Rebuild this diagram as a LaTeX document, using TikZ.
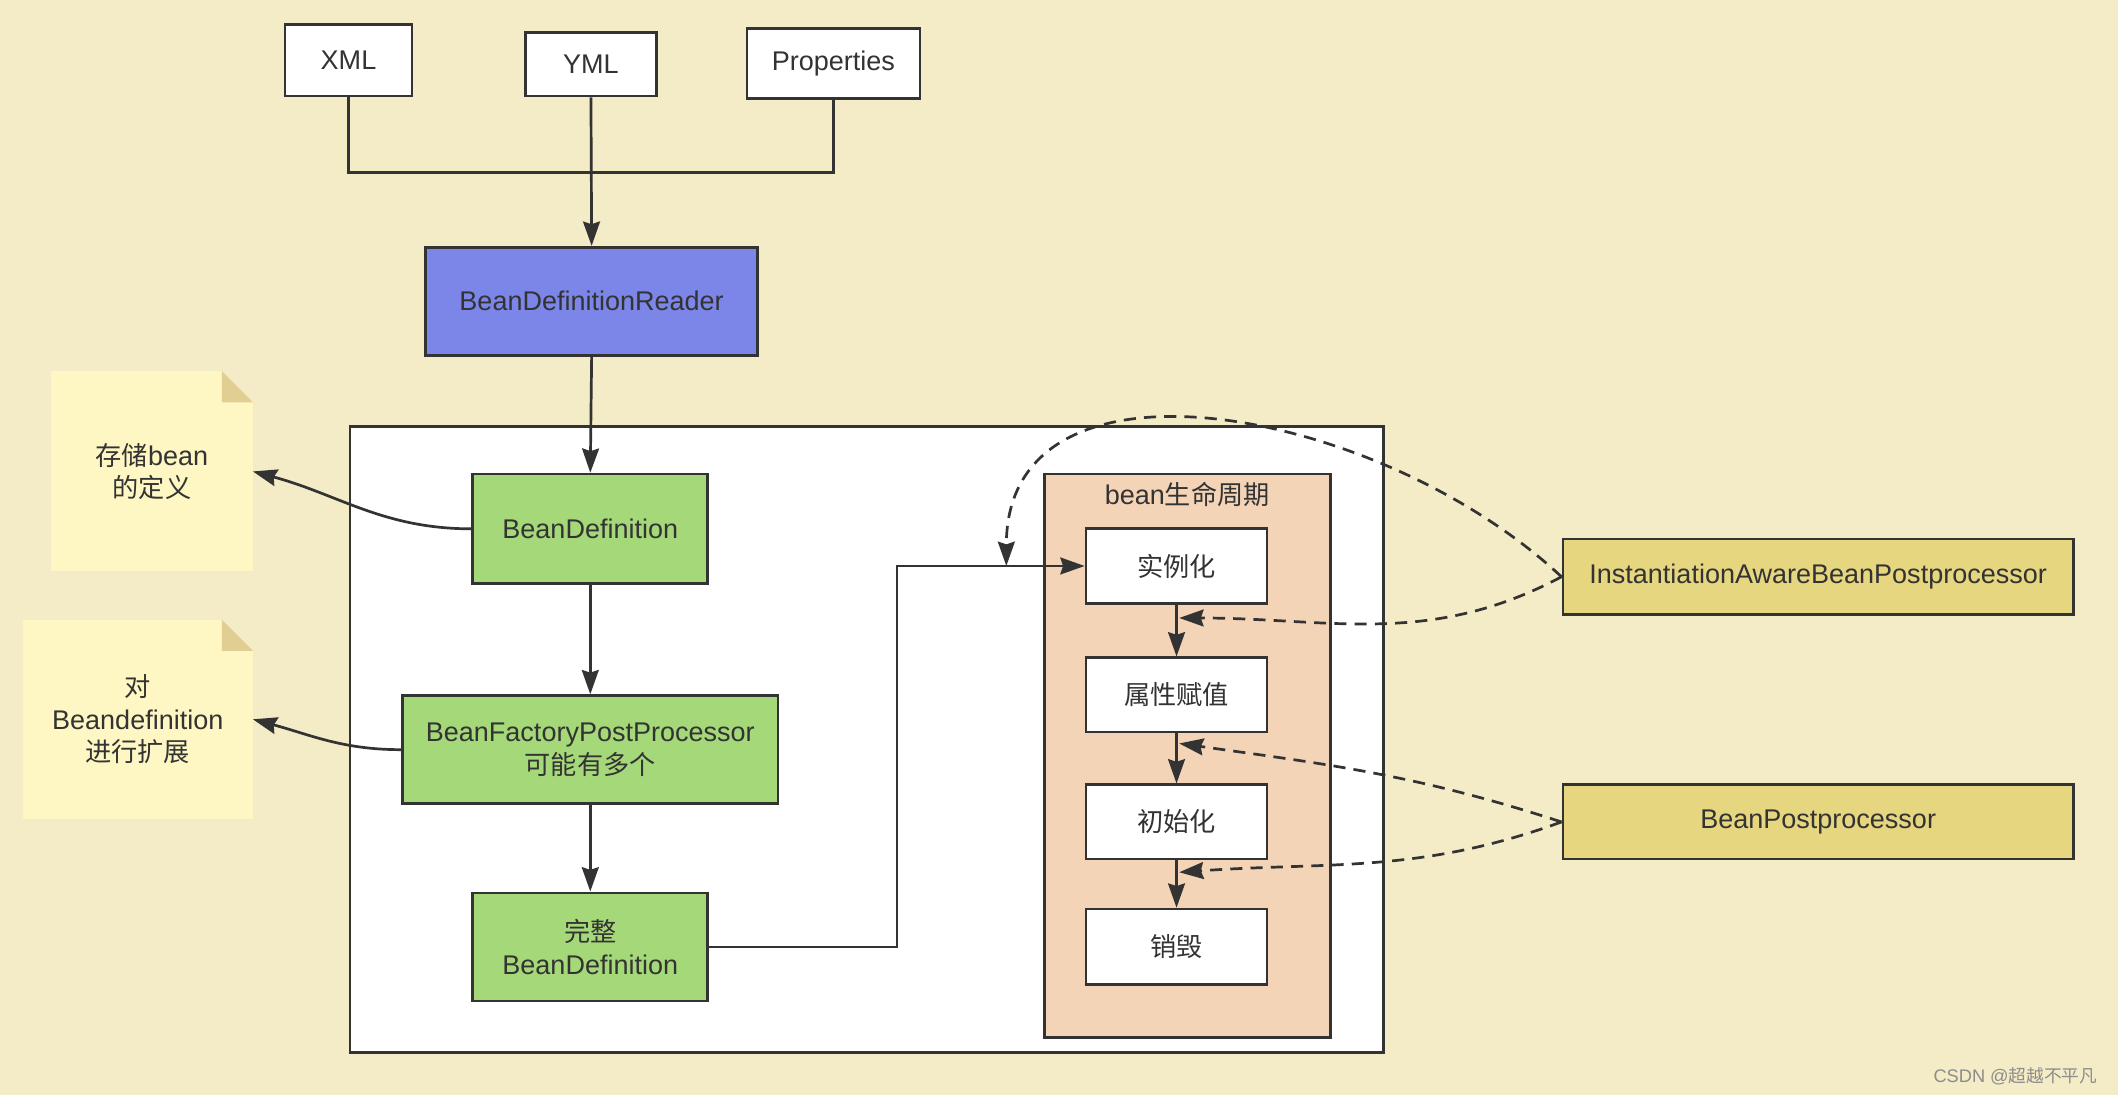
\documentclass[tikz,border=0pt]{standalone}
\usepackage{fontspec}
\setmainfont{Liberation Sans}
\newfontfamily\cjk[Scale=0.97]{Noto Sans CJK SC}
\usetikzlibrary{arrows.meta,calc}

\definecolor{paper}{HTML}{F4ECC6}
\definecolor{reader blue}{HTML}{7B86E8}
\definecolor{bean green}{HTML}{A5D878}
\definecolor{note yellow}{HTML}{FEF7C4}
\definecolor{note fold}{HTML}{E0CE93}
\definecolor{life peach}{HTML}{F3D4B7}
\definecolor{proc yellow}{HTML}{E5D67F}
\colorlet{edge}{black!80}
\tikzset{every node/.append style={font=\fontsize{20}{24}\selectfont, text=edge},
    box/.style={draw=edge, line width=2pt, align=center, inner sep=0pt},
    plain/.style={box, fill=white},
    green/.style={box, fill=bean green},
    proc/.style={box, fill=proc yellow, minimum width=378},
    stage/.style={box, fill=white, minimum width=134, minimum height=55},
    note/.style={fill=note yellow, align=center, inner sep=0pt},
    wire/.style={draw=edge, line width=2pt},
    flow/.style={wire, -{Stealth[length=18pt,width=12.5pt,inset=2pt]}},
    hint/.style={flow, dash pattern=on 9pt off 6pt}}

\begin{document}
\begin{tikzpicture}[x=1pt,y=1pt]

    \fill[paper] (0,0) rectangle (1568,-811);
    \useasboundingbox (0,0) rectangle (1568,-811);

    \node[plain, minimum width=94, minimum height=53] (xml) at (258,-44.5) {XML};
    \node[plain, minimum width=97, minimum height=47] (yml) at (437.5,-47.5) {YML};
    \node[plain, minimum width=128, minimum height=52] (props) at (617,-47) {Properties};
    \node[box, fill=reader blue, minimum width=246, minimum height=80] (reader) at (438,-223) {BeanDefinitionReader};

    \node[box, fill=white, minimum width=765, minimum height=463] (ioc) at (641.5,-547.5) {};
    \node[box, fill=life peach, minimum width=212, minimum height=417] (life) at (879,-559.5) {};
    \node (lifetitle) at (879,-366) {bean{\cjk 生命周期}};

    \node[green, minimum width=174, minimum height=81] (bd) at (437,-391.5) {BeanDefinition};
    \node[green, minimum width=278, minimum height=80] (bfpp) at (437,-555) {BeanFactoryPostProcessor\\{\cjk 可能有多个}};
    \node[green, minimum width=174, minimum height=80] (full) at (437,-701) {{\cjk 完整}\\BeanDefinition};

    \node[stage, minimum height=56] (inst) at (871,-419) {\cjk 实例化};
    \node[stage] (attr) at (871,-514.5) {\cjk 属性赋值};
    \node[stage] (init) at (871,-608.5) {\cjk 初始化};
    \node[stage, minimum height=56] (dest) at (871,-701) {\cjk 销毁};

    \node[proc, minimum height=56] (iabp) at (1346,-427) {InstantiationAwareBeanPostprocessor};
    \node[proc, minimum height=55] (bpp) at (1346,-608.5) {BeanPostprocessor};

    \node[note, minimum width=149, minimum height=148] (note1) at (112.5,-349) {{\cjk 存储}bean\\{\cjk 的定义}};
    \node[note, minimum width=170, minimum height=147] (note2) at (102,-532.5) {{\cjk 对}\\Beandefinition\\{\cjk 进行扩展}};
    \foreach \n in {note1,note2}{
        \fill[paper] (\n.north east) -- ++(-23,0) -- ++(23,-23) -- cycle;
        \fill[note fold] ($(\n.north east)+(-23,0)$) -- ++(0,-23) -- ++(23,0) -- cycle;
    }

    \node[font=\fontsize{13.5}{16}\selectfont, text=black!45] (mark) at (1492,-797) {CSDN @{\cjk 超越不平凡}};

    \coordinate (join) at (438,-127.5);
    \draw[wire] (xml.south) |- (join);
    \draw[wire] (props.south) |- (join);
    \draw[flow] (yml.south) -- (reader.north);
    \draw[flow] (reader.south) -- (bd.north);
    \draw[flow] (bd.south) -- (bfpp.north);
    \draw[flow] (bfpp.south) -- (full.north);
    \draw[flow] (full.east) -- ++(139,0) |- (inst.west);
    \draw[flow] (bd.west) to[out=180,in=-15] (note1.east);
    \draw[flow] (bfpp.west) to[out=180,in=-15] (note2.east);
    \foreach \a/\b in {inst/attr,attr/init,init/dest}
        \draw[flow] (\a.south) -- (\b.north);

    \coordinate (hook) at ($(inst.west)+(-58,0)$);
    \coordinate (p1) at ($(inst.south)!.25!(attr.north)+(2,0)$);
    \coordinate (p2) at ($(attr.south)!.2!(init.north)+(2,0)$);
    \coordinate (p3) at ($(init.south)!.25!(dest.north)+(2,0)$);
    \draw[hint] (iabp.west) .. controls (1020,-300) and (745,-250) .. (hook);
    \draw[hint] (iabp.west) to[out=208,in=0] (p1);
    \draw[hint] (bpp.west) to[out=162,in=-8] (p2);
    \draw[hint] (bpp.west) to[out=200,in=4] (p3);

\end{tikzpicture}
\end{document}
